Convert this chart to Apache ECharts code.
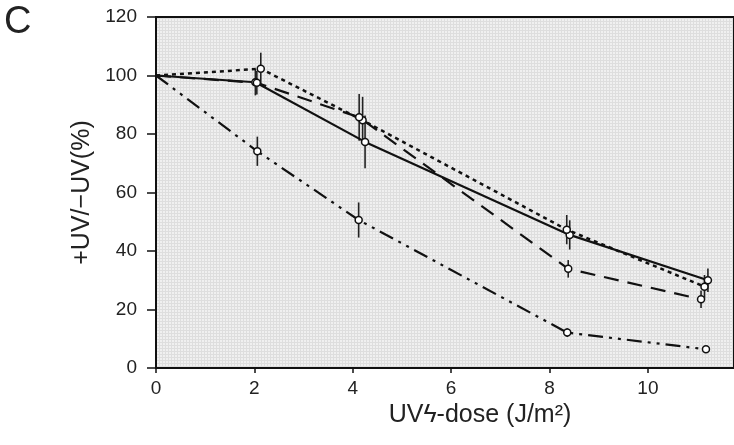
<!DOCTYPE html>
<html>
<head>
<meta charset="utf-8">
<script src="https://cdn.jsdelivr.net/npm/echarts@6/dist/echarts.min.js"></script>
<style>
  html, body { margin: 0; padding: 0; background: #fff; }
  #main { width: 734px; height: 445px; }
</style>
</head>
<body>
<div id="main"></div>
<script>
// values (dose in J/m2, survival in %)
var solidX = [0, 2.02, 4.25, 8.41, 11.22];
var solidY = [100, 97.7, 77.3, 45.5, 30.0];
var solidErr = [0, 4.5, 9, 5, 4];

var dottedX = [0, 2.13, 4.2, 8.35, 11.15];
var dottedY = [100, 102.3, 84.7, 47.3, 27.8];
var dottedErr = [0, 5.5, 8, 5, 4];

var dashX = [0, 2.05, 4.13, 8.38, 11.08];
var dashY = [100, 97.5, 85.7, 33.9, 23.5];
var dashErr = [0, 4, 8, 3, 3];

var ddotX = [0, 2.06, 4.12, 8.36, 11.18];
var ddotY = [100, 74.1, 50.6, 12.1, 6.4];
var ddotErr = [0, 5, 6, 1.5, 1];

var yTicks = [0, 20, 40, 60, 80, 100, 120];

function pairs(xs, ys) {
    var out = [];
    for (var i = 0; i < xs.length; i++) {
        // the shared start point at dose 0 has no circle in the figure
        out.push({ value: [xs[i], ys[i]], symbolSize: xs[i] === 0 ? 0 : 7 });
    }
    return out;
}
function errRows(xs, ys, es) {
    var out = [];
    for (var i = 0; i < xs.length; i++) {
        if (es[i] > 0) out.push([xs[i], ys[i] - es[i], ys[i] + es[i]]);
    }
    return out;
}

// fine grey grid texture like the printed plot area
var tex = document.createElement('canvas');
tex.width = 3; tex.height = 3;
var tc = tex.getContext('2d');
tc.fillStyle = '#f0f0f0';
tc.fillRect(0, 0, 3, 3);
tc.fillStyle = '#dedede';
tc.fillRect(0, 0, 3, 1);
tc.fillRect(0, 0, 1, 3);

var chart = echarts.init(document.getElementById('main'));

function lineSeries(name, xs, ys, dash, width) {
    return {
        name: name,
        type: 'line',
        data: pairs(xs, ys),
        symbol: 'circle',
        symbolSize: 7,
        z: 3,
        lineStyle: { color: '#111', width: width, type: dash },
        itemStyle: { color: '#fff', borderColor: '#111', borderWidth: 1.5 },
        animation: false
    };
}
function errSeries(xs, ys, es) {
    return {
        type: 'custom',
        data: errRows(xs, ys, es),
        z: 2,
        animation: false,
        renderItem: function (params, api) {
            var lo = api.coord([api.value(0), api.value(1)]);
            var hi = api.coord([api.value(0), api.value(2)]);
            return {
                type: 'line',
                shape: { x1: lo[0], y1: lo[1], x2: hi[0], y2: hi[1] },
                style: { stroke: '#222', lineWidth: 1.6 }
            };
        }
    };
}

var option = {
    backgroundColor: '#fff',
    textStyle: { fontFamily: 'Liberation Sans, Arial, sans-serif' },
    graphic: [{
        type: 'text', left: 4, top: 4,
        style: { text: 'C', fontSize: 38, fill: '#222', fontFamily: 'Liberation Sans, Arial, sans-serif' }
    }],
    grid: {
        left: 156, top: 17, right: -5, bottom: 77,
        show: true,
        backgroundColor: { image: tex, repeat: 'repeat' },
        borderColor: '#111', borderWidth: 2
    },
    xAxis: {
        type: 'value',
        min: 0, max: 11.75, interval: 2,
        splitLine: { show: false },
        axisLine: { lineStyle: { color: '#111', width: 2 } },
        axisTick: { length: 5, lineStyle: { color: '#111', width: 1.5 } },
        axisLabel: { color: '#222', fontSize: 19, margin: 11, showMaxLabel: false },
        name: 'UV\u03DF-dose (J/m\u00B2)',
        nameLocation: 'middle',
        nameGap: 24,
        nameTextStyle: { color: '#222', fontSize: 25, padding: [0, 0, 0, 70] }
    },
    yAxis: {
        type: 'value',
        min: yTicks[0], max: yTicks[yTicks.length - 1], interval: 20,
        splitLine: { show: false },
        axisLine: { lineStyle: { color: '#111', width: 2 } },
        axisTick: { length: 9, lineStyle: { color: '#111', width: 1.5 } },
        axisLabel: { color: '#222', fontSize: 19, margin: 19 },
        name: '+UV/\u2212UV(%)',
        nameLocation: 'middle',
        nameGap: 50,
        nameTextStyle: { color: '#222', fontSize: 25 }
    },
    series: [
        lineSeries('solid', solidX, solidY, 'solid', 2.2),
        lineSeries('dotted', dottedX, dottedY, [4, 4], 2.5),
        lineSeries('dash', dashX, dashY, [15, 9], 2.2),
        lineSeries('dashdotdot', ddotX, ddotY, [15, 6, 3, 6, 3, 6], 2.2),
        errSeries(solidX, solidY, solidErr),
        errSeries(dottedX, dottedY, dottedErr),
        errSeries(dashX, dashY, dashErr),
        errSeries(ddotX, ddotY, ddotErr)
    ]
};
chart.setOption(option);
</script>
</body>
</html>
